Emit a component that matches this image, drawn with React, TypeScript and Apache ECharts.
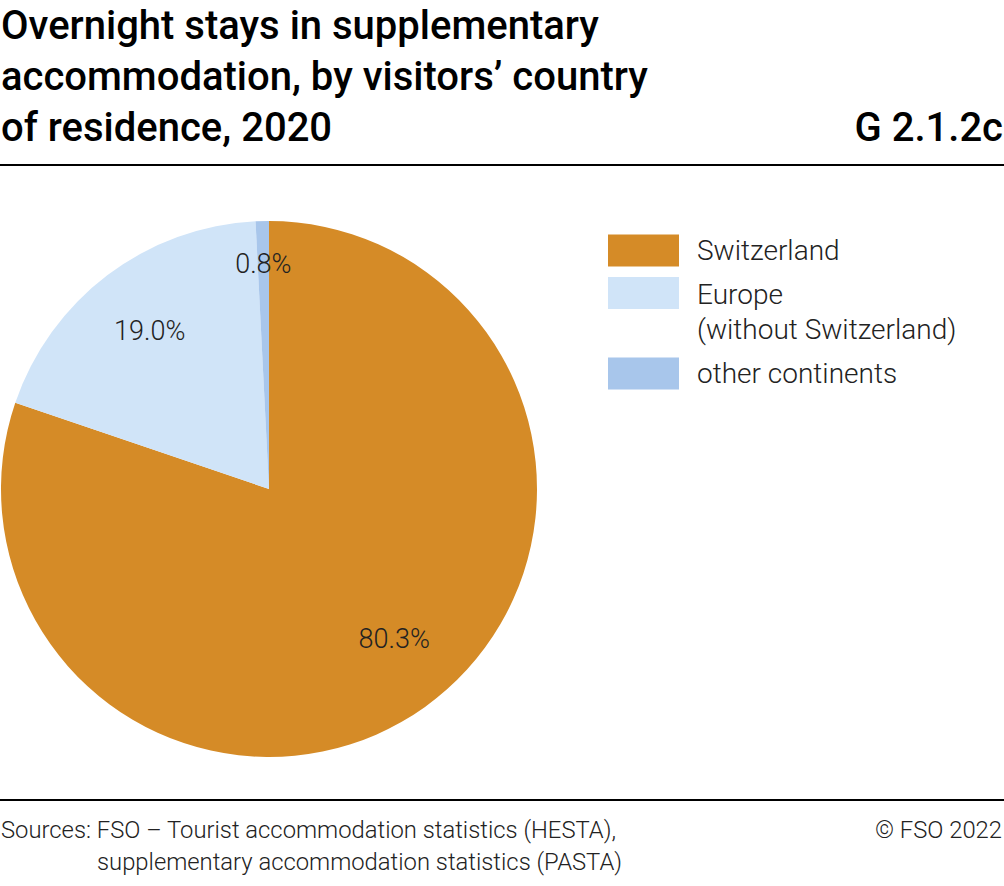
import React, { useEffect, useRef } from "react";
import * as echarts from "echarts";

const categories = ["Switzerland", "Europe\n(without Switzerland)", "other continents"];
const shares = [80.3, 19.0, 0.8];
const colors = ["#D58B27", "#D0E4F8", "#A8C6EB"];
const titleLines = ["Overnight stays in supplementary", "accommodation, by visitors’ country", "of residence, 2020"];
const chartCode = "G 2.1.2c";
const sourceLines = ["Sources: FSO – Tourist accommodation statistics (HESTA),", "supplementary accommodation statistics (PASTA)"];
const copyright = "© FSO 2022";

export default function App() {
  const ref = useRef<HTMLDivElement>(null);
  useEffect(() => {
    if (!ref.current) return;
    const chart = echarts.init(ref.current, null, { renderer: "svg" });
    const font = "Roboto, 'Noto Sans', sans-serif";
    const data = categories.map((c, i) => ({ name: c, value: shares[i], itemStyle: { color: colors[i] } }));
    const center = [269, 489];
    const legendBase = {
      orient: "vertical",
      left: 603,
      itemWidth: 71,
      itemHeight: 32,
      itemGap: 14,
      icon: "rect",
      selectedMode: false,
      textStyle: { fontFamily: font, fontSize: 28, fontWeight: 300, color: "#222", lineHeight: 35, padding: [0, 0, 0, 13] },
    };
    const labelStyle = {
      show: true,
      position: "inside",
      formatter: (p: any) => p.value.toFixed(1) + "%",
      fontFamily: font,
      fontSize: 27,
      fontWeight: 300,
      color: "#222",
    };
    chart.setOption({
      animation: false,
      textStyle: { fontFamily: font },
      legend: [
        { ...legendBase, top: 228, data: [categories[0]] },
        {
          ...legendBase,
          top: 272,
          itemHeight: 70,
          icon: "path://M0,0H71V32H0ZM0,70L0.01,70",
          data: [categories[1]],
        },
        { ...legendBase, top: 351, data: [categories[2]] },
      ],
      graphic: [
        {
          type: "text",
          left: 1,
          top: 0,
          style: { text: titleLines.join("\n"), font: `500 40px ${font}`, lineHeight: 51, fill: "#000" },
        },
        {
          type: "text",
          right: 1,
          top: 102,
          style: { text: chartCode, font: `500 40px ${font}`, lineHeight: 51, fill: "#000", textAlign: "right" },
        },
        { type: "line", shape: { x1: 0, y1: 165, x2: 1004, y2: 165 }, style: { stroke: "#000", lineWidth: 2 } },
        { type: "line", shape: { x1: 0, y1: 800, x2: 1004, y2: 800 }, style: { stroke: "#000", lineWidth: 2 } },
        {
          type: "text",
          left: 1,
          top: 818,
          style: { text: sourceLines[0], font: `300 23.8px ${font}`, fill: "#222" },
        },
        {
          type: "text",
          left: 97,
          top: 850,
          style: { text: sourceLines[1], font: `300 23.8px ${font}`, fill: "#222" },
        },
        {
          type: "text",
          right: 2,
          top: 818,
          style: { text: copyright, font: `300 23.8px ${font}`, fill: "#222", textAlign: "right" },
        },
      ],
      series: [
        {
          type: "pie",
          center,
          radius: [0, 268],
          startAngle: 90,
          clockwise: true,
          silent: true,
          label: { show: false },
          labelLine: { show: false },
          data,
        },
        {
          type: "pie",
          center,
          radius: [0, 390],
          startAngle: 90,
          clockwise: true,
          silent: true,
          itemStyle: { color: "rgba(0,0,0,0)" },
          label: labelStyle,
          labelLine: { show: false },
          labelLayout: (p: any) => (p.dataIndex === 0 ? { dx: 10, dy: -11 } : {}),
          data: categories.map((c, i) => ({
            name: c + " lbl",
            value: shares[i],
            label: { show: i < 2 },
          })),
        },
        {
          type: "pie",
          center,
          radius: [0, 444],
          startAngle: 90,
          clockwise: true,
          silent: true,
          itemStyle: { color: "rgba(0,0,0,0)" },
          label: labelStyle,
          labelLine: { show: false },
          data: categories.map((c, i) => ({
            name: c + " lbl2",
            value: shares[i],
            label: { show: i === 2 },
          })),
        },
      ],
    });
    return () => chart.dispose();
  }, []);
  return <div ref={ref} style={{ position: "fixed", left: 0, top: 0, width: 1004, height: 886, background: "#fff" }} />;
}
